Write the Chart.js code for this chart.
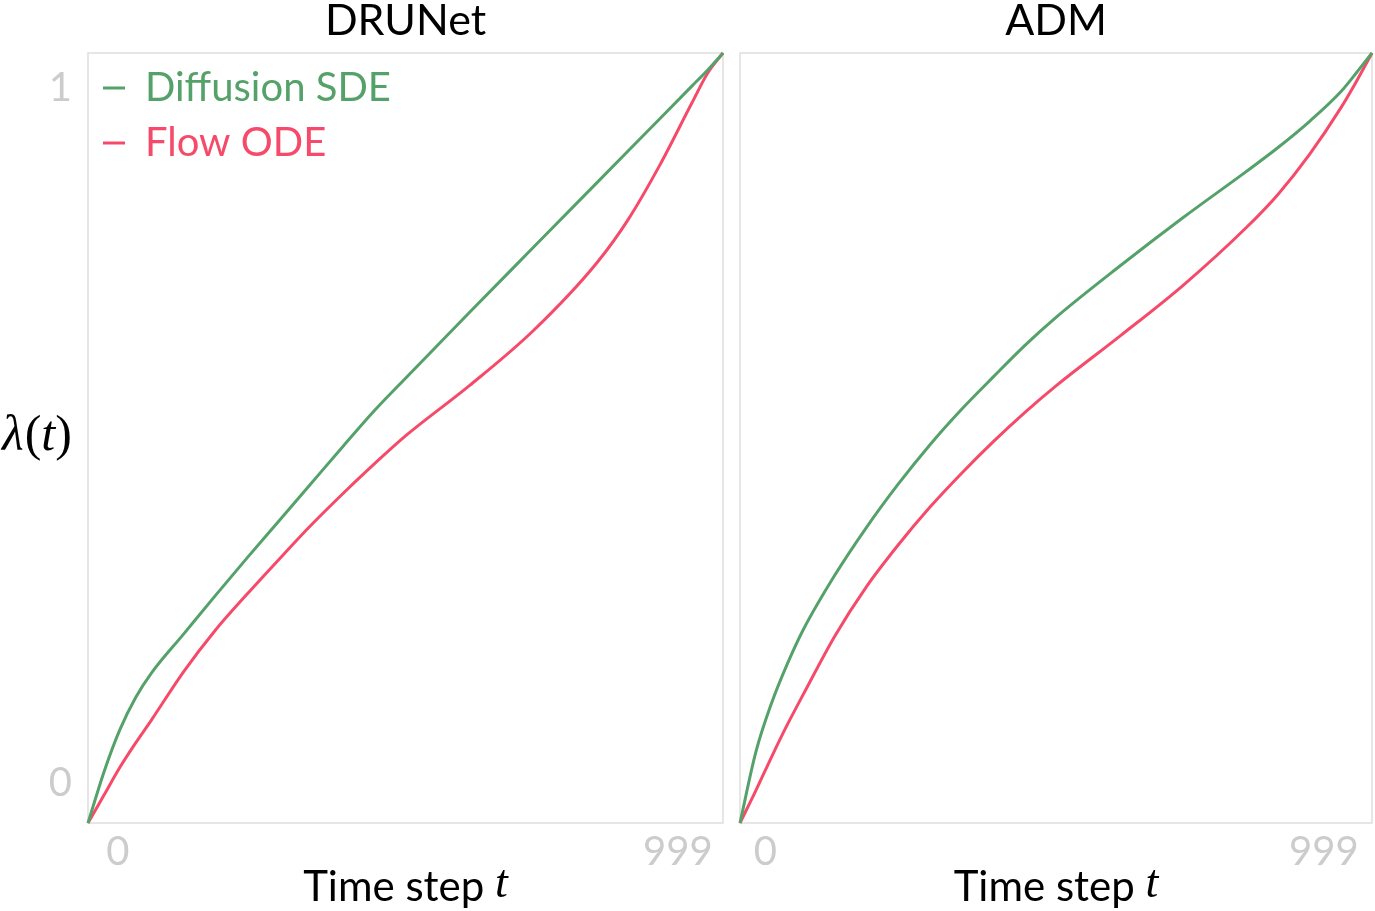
<!DOCTYPE html>
<html>
<head>
<meta charset="utf-8">
<script src="https://cdn.jsdelivr.net/npm/chart.js@4.4.1/dist/chart.umd.min.js"></script>
<style>
  body { margin: 0; background: #fff; width: 1375px; height: 911px; overflow: hidden; position: relative; }
  .panel { position: absolute; top: 0; height: 911px; }
  #leftPanel { left: 0; width: 728px; }
  #rightPanel { left: 730px; width: 645px; }
</style>
</head>
<body>
<div class="panel" id="leftPanel"><canvas id="drunetChart"></canvas></div>
<div class="panel" id="rightPanel"><canvas id="admChart"></canvas></div>
<script>
// time steps shared by every curve
const timeSteps = [0, 25, 50, 75, 100, 150, 200, 250, 300, 350, 400, 450, 500, 600, 700, 800, 850, 900, 950, 975, 999];

// DRUNet panel
const drunetSDE = [0, 0.066, 0.121, 0.163, 0.195, 0.245, 0.295, 0.344, 0.392, 0.440, 0.488, 0.535, 0.578, 0.663, 0.747, 0.831, 0.873, 0.915, 0.957, 0.978, 1.0];
const drunetODE = [0, 0.036, 0.072, 0.104, 0.134, 0.196, 0.250, 0.297, 0.342, 0.386, 0.427, 0.466, 0.503, 0.568, 0.639, 0.727, 0.784, 0.855, 0.935, 0.974, 1.0];

// ADM panel
const admSDE = [0, 0.092, 0.156, 0.207, 0.251, 0.322, 0.384, 0.440, 0.491, 0.537, 0.579, 0.620, 0.657, 0.723, 0.786, 0.846, 0.877, 0.911, 0.950, 0.975, 1.0];
const admODE = [0, 0.042, 0.086, 0.128, 0.167, 0.243, 0.307, 0.361, 0.410, 0.454, 0.495, 0.533, 0.568, 0.632, 0.698, 0.773, 0.816, 0.868, 0.929, 0.964, 1.0];

const seriesNames = ["Diffusion SDE", "Flow ODE"];
const panelTitles = ["DRUNet", "ADM"];
const xTickLabels = ["0", "999"];
const yTickLabels = ["0", "1"];
// where the tick labels sit (data units)
const drunetXTickAt = [47, 928];
const admXTickAt = [40, 923];
const yTickAt = [0.052, 0.955];

const color = {
  Green: "#55a16a",
  Red: "#f64a6a",
  Frame: "#dedede",
  Tick: "#cccccc",
  Black: "#000000",
};
const sans = "Lato, 'Open Sans', sans-serif";
const serif = "'Liberation Serif', 'DejaVu Serif', serif";

function toPoints(vals) {
  return timeSteps.map((t, i) => ({ x: t, y: vals[i] }));
}

function makeDataset(label, vals, c) {
  return {
    label: label,
    data: toPoints(vals),
    borderColor: c,
    backgroundColor: c,
    borderWidth: 3,
    pointRadius: 0,
    cubicInterpolationMode: "monotone",
    clip: false,
  };
}

// frame round the plot, plus the math-style axis labels
const mathLabels = {
  id: "mathLabels",
  beforeDatasetsDraw(chart) {
    const { ctx, chartArea: a } = chart;
    ctx.save();
    ctx.strokeStyle = color.Frame;
    ctx.lineWidth = 1.5;
    ctx.strokeRect(a.left, a.top, a.right - a.left, a.bottom - a.top);
    ctx.restore();
  },
  afterDraw(chart, args, opts) {
    const { ctx, chartArea: a } = chart;
    ctx.save();
    ctx.fillStyle = color.Black;
    ctx.textBaseline = "middle";
    ctx.textAlign = "left";

    // "Time step t"
    const f1 = "42px " + sans;
    const f2 = "italic 46px " + serif;
    ctx.font = f1;
    const w1 = ctx.measureText("Time step ").width;
    ctx.font = f2;
    const w2 = ctx.measureText("t").width;
    let x = (a.left + a.right) / 2 - (w1 + w2) / 2;
    ctx.font = f1;
    ctx.fillText("Time step ", x, 887);
    ctx.font = f2;
    ctx.fillText("t", x + w1, 885);

    // lambda(t) on the left panel only
    if (opts.lambda) {
      const parts = [
        ["λ", "italic 50px " + serif],
        ["(", "50px " + serif],
        ["t", "italic 50px " + serif],
        [")", "50px " + serif],
      ];
      let px = 2;
      parts.forEach(([s, f]) => {
        ctx.font = f;
        ctx.fillText(s, px, 437);
        px += ctx.measureText(s).width + (s === "λ" ? 1 : 0);
      });
    }
    ctx.restore();
  },
};

function makeConfig(title, sde, ode, xTickAt, left) {
  return {
    type: "line",
    data: {
      datasets: [
        makeDataset(seriesNames[0], sde, color.Green),
        makeDataset(seriesNames[1], ode, color.Red),
      ],
    },
    options: {
      responsive: true,
      maintainAspectRatio: false,
      animation: false,
      layout: { padding: { right: left ? 5 : 3 } },
      scales: {
        x: {
          type: "linear",
          position: "bottom",
          min: 0,
          max: 999,
          grid: { display: false, drawTicks: false },
          border: { display: false },
          ticks: {
            color: color.Tick,
            font: { family: sans, size: 40 },
            padding: 5,
            maxRotation: 0,
            autoSkip: false,
            callback: (v, i) => xTickLabels[i],
          },
          afterBuildTicks: (s) => { s.ticks = xTickAt.map((v) => ({ value: v })); },
          afterFit: (s) => { s.height = 88; },
        },
        x2: {
          type: "linear",
          position: "top",
          min: 0,
          max: 999,
          grid: { display: false, drawTicks: false },
          border: { display: false },
          ticks: { display: false },
          title: {
            display: true,
            text: title,
            color: color.Black,
            font: { family: sans, size: 43, lineHeight: 1 },
            padding: { top: 0, bottom: 0 },
          },
          afterFit: (s) => { s.height = 53; },
        },
        y: {
          type: "linear",
          position: "left",
          min: 0,
          max: 1,
          grid: { display: false, drawTicks: false },
          border: { display: false },
          ticks: {
            display: left,
            color: color.Tick,
            font: { family: sans, size: 40 },
            padding: 16,
            callback: (v, i) => yTickLabels[i],
          },
          afterBuildTicks: (s) => { s.ticks = yTickAt.map((v) => ({ value: v })); },
          afterFit: (s) => { s.width = left ? 88 : 10; },
        },
      },
      plugins: {
        tooltip: { enabled: false },
        mathLabels: { lambda: left },
        legend: {
          display: left,
          position: "chartArea",
          align: "start",
          // empty title only pushes the entries below the top frame
          title: {
            display: true,
            text: " ",
            font: { size: 1, lineHeight: 1 },
            padding: { top: 52, bottom: 0 },
          },
          labels: {
            usePointStyle: true,
            pointStyle: "line",
            pointStyleWidth: 22,
            padding: 15,
            font: { family: sans, size: 40 },
            generateLabels: (chart) =>
              chart.data.datasets.map((ds, i) => ({
                text: ds.label,
                fillStyle: ds.borderColor,
                strokeStyle: ds.borderColor,
                fontColor: ds.borderColor,
                lineWidth: 3,
                pointStyle: "line",
                hidden: false,
                datasetIndex: i,
              })),
          },
        },
      },
    },
    plugins: [mathLabels],
  };
}

const drunetChart = new Chart(
  document.getElementById("drunetChart"),
  makeConfig(panelTitles[0], drunetSDE, drunetODE, drunetXTickAt, true)
);

const admChart = new Chart(
  document.getElementById("admChart"),
  makeConfig(panelTitles[1], admSDE, admODE, admXTickAt, false)
);
</script>
</body>
</html>
